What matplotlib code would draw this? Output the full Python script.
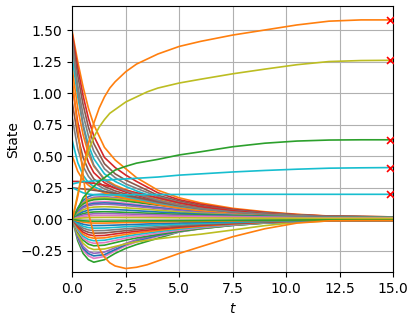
import numpy as np
import matplotlib
matplotlib.use("Agg")
import matplotlib.pyplot as plt

# sample times shared by the bulk trajectories
t = [0, 0.25, 0.5, 0.75, 1, 1.5, 2, 2.5, 3, 4, 5, 6, 7.5, 9, 10.5, 12, 15]
# denser sample times for the highlighted trajectories
t_fine = [0, 0.25, 0.5, 0.75, 1, 1.25, 1.5, 1.75, 2, 2.5, 3, 3.5, 4, 5, 6, 7.5, 9, 10.5, 12, 13.5, 15]

# states that start high and decay
decay_states = [
    [1.48, 1.25, 1.05, 0.88, 0.75, 0.57, 0.47, 0.40, 0.33, 0.23, 0.17, 0.13, 0.087, 0.06, 0.04, 0.026, 0.019],
    [1.46, 1.20, 0.98, 0.80, 0.66, 0.49, 0.41, 0.35, 0.30, 0.21, 0.155, 0.12, 0.08, 0.055, 0.037, 0.025, 0.019],
    [1.43, 1.14, 0.91, 0.73, 0.60, 0.44, 0.36, 0.31, 0.27, 0.19, 0.145, 0.11, 0.075, 0.052, 0.035, 0.024, 0.019],
    [1.36, 1.06, 0.83, 0.66, 0.54, 0.40, 0.33, 0.28, 0.245, 0.18, 0.135, 0.10, 0.07, 0.048, 0.033, 0.023, 0.018],
    [1.27, 0.97, 0.75, 0.59, 0.48, 0.36, 0.30, 0.26, 0.225, 0.165, 0.125, 0.095, 0.065, 0.045, 0.031, 0.022, 0.018],
    [1.18, 0.88, 0.67, 0.52, 0.42, 0.32, 0.27, 0.235, 0.205, 0.155, 0.115, 0.088, 0.06, 0.042, 0.03, 0.021, 0.018],
    [1.05, 0.77, 0.58, 0.45, 0.37, 0.29, 0.245, 0.215, 0.19, 0.145, 0.11, 0.083, 0.057, 0.04, 0.029, 0.021, 0.018],
    [0.92, 0.66, 0.49, 0.39, 0.32, 0.26, 0.225, 0.20, 0.175, 0.135, 0.10, 0.078, 0.054, 0.038, 0.028, 0.02, 0.018],
    [0.80, 0.56, 0.42, 0.34, 0.29, 0.24, 0.21, 0.185, 0.165, 0.128, 0.097, 0.074, 0.051, 0.036, 0.027, 0.02, 0.018],
    [0.62, 0.45, 0.35, 0.29, 0.26, 0.22, 0.195, 0.175, 0.155, 0.12, 0.092, 0.07, 0.049, 0.035, 0.026, 0.02, 0.018],
    [0.50, 0.38, 0.31, 0.27, 0.24, 0.21, 0.185, 0.165, 0.148, 0.115, 0.088, 0.067, 0.047, 0.034, 0.025, 0.02, 0.018],
    [0.30, 0.30, 0.295, 0.29, 0.285, 0.27, 0.25, 0.23, 0.21, 0.17, 0.13, 0.10, 0.068, 0.045, 0.031, 0.022, 0.018],
    [0.25, 0.245, 0.24, 0.235, 0.23, 0.22, 0.205, 0.19, 0.175, 0.14, 0.11, 0.085, 0.058, 0.04, 0.028, 0.02, 0.018],
    [1.40, 1.02, 0.74, 0.55, 0.43, 0.31, 0.26, 0.225, 0.20, 0.15, 0.112, 0.085, 0.058, 0.041, 0.03, 0.021, 0.018],
]

# states that start at zero and spread out
spread_states = [
    [0, 0.09, 0.15, 0.18, 0.195, 0.2, 0.192, 0.18, 0.166, 0.136, 0.106, 0.082, 0.055, 0.037, 0.026, 0.019, 0.016],
    [0, -0.17, -0.27, -0.32, -0.34, -0.32, -0.27, -0.23, -0.2, -0.15, -0.1, -0.075, -0.048, -0.03, -0.018, -0.012, -0.01],
    [0, 0.08, 0.135, 0.162, 0.175, 0.18, 0.173, 0.162, 0.15, 0.124, 0.098, 0.076, 0.052, 0.035, 0.025, 0.019, 0.016],
    [0, -0.15, -0.245, -0.29, -0.31, -0.295, -0.25, -0.21, -0.18, -0.135, -0.1, -0.073, -0.046, -0.028, -0.017, -0.012, -0.01],
    [0, 0.075, 0.128, 0.153, 0.165, 0.17, 0.163, 0.153, 0.142, 0.117, 0.093, 0.072, 0.05, 0.034, 0.025, 0.019, 0.016],
    [0, -0.14, -0.23, -0.272, -0.29, -0.28, -0.24, -0.2, -0.17, -0.128, -0.095, -0.07, -0.044, -0.027, -0.017, -0.012, -0.01],
    [0, 0.072, 0.12, 0.144, 0.155, 0.16, 0.154, 0.144, 0.134, 0.111, 0.088, 0.069, 0.048, 0.033, 0.024, 0.018, 0.015],
    [0, -0.13, -0.215, -0.255, -0.27, -0.26, -0.225, -0.19, -0.162, -0.12, -0.09, -0.066, -0.042, -0.026, -0.016, -0.011, -0.01],
    [0, 0.063, 0.105, 0.126, 0.136, 0.14, 0.135, 0.127, 0.118, 0.098, 0.078, 0.062, 0.044, 0.031, 0.023, 0.018, 0.015],
    [0, -0.12, -0.19, -0.225, -0.24, -0.235, -0.215, -0.195, -0.178, -0.155, -0.135, -0.118, -0.085, -0.05, -0.025, -0.013, -0.01],
    [0, 0.058, 0.098, 0.117, 0.126, 0.13, 0.126, 0.118, 0.11, 0.092, 0.074, 0.059, 0.042, 0.03, 0.022, 0.018, 0.015],
    [0, -0.1, -0.165, -0.197, -0.21, -0.205, -0.185, -0.165, -0.148, -0.12, -0.095, -0.073, -0.048, -0.03, -0.018, -0.012, -0.01],
    [0, 0.054, 0.09, 0.108, 0.116, 0.12, 0.116, 0.109, 0.101, 0.085, 0.069, 0.055, 0.04, 0.029, 0.022, 0.017, 0.015],
    [0, -0.09, -0.15, -0.178, -0.19, -0.185, -0.167, -0.15, -0.135, -0.11, -0.087, -0.067, -0.045, -0.028, -0.017, -0.012, -0.01],
    [0, 0.045, 0.075, 0.09, 0.097, 0.1, 0.097, 0.091, 0.085, 0.072, 0.059, 0.048, 0.036, 0.027, 0.021, 0.017, 0.015],
    [0, -0.08, -0.134, -0.16, -0.17, -0.166, -0.15, -0.135, -0.121, -0.098, -0.078, -0.06, -0.04, -0.026, -0.016, -0.011, -0.01],
    [0, 0.036, 0.06, 0.072, 0.078, 0.08, 0.077, 0.073, 0.068, 0.058, 0.049, 0.041, 0.032, 0.025, 0.02, 0.016, 0.014],
    [0, -0.07, -0.118, -0.141, -0.15, -0.147, -0.133, -0.12, -0.108, -0.088, -0.07, -0.055, -0.037, -0.024, -0.015, -0.011, -0.009],
    [0, 0.027, 0.045, 0.054, 0.058, 0.06, 0.058, 0.055, 0.052, 0.045, 0.039, 0.034, 0.027, 0.022, 0.018, 0.015, 0.014],
    [0, -0.06, -0.102, -0.122, -0.13, -0.128, -0.116, -0.105, -0.095, -0.078, -0.062, -0.049, -0.034, -0.022, -0.014, -0.01, -0.009],
    [0, 0.02, 0.034, 0.04, 0.044, 0.045, 0.044, 0.042, 0.04, 0.035, 0.031, 0.027, 0.023, 0.019, 0.016, 0.014, 0.013],
    [0, -0.05, -0.086, -0.103, -0.11, -0.108, -0.099, -0.09, -0.082, -0.068, -0.055, -0.044, -0.031, -0.02, -0.013, -0.01, -0.009],
    [0, 0.013, 0.022, 0.027, 0.029, 0.03, 0.029, 0.028, 0.027, 0.024, 0.022, 0.02, 0.017, 0.015, 0.013, 0.012, 0.012],
    [0, -0.041, -0.07, -0.084, -0.09, -0.089, -0.082, -0.075, -0.069, -0.058, -0.047, -0.038, -0.027, -0.018, -0.012, -0.009, -0.008],
    [0, 0.007, 0.011, 0.013, 0.014, 0.015, 0.015, 0.014, 0.014, 0.013, 0.012, 0.011, 0.01, 0.009, 0.009, 0.008, 0.008],
    [0, -0.032, -0.055, -0.066, -0.07, -0.069, -0.064, -0.059, -0.054, -0.046, -0.038, -0.031, -0.023, -0.016, -0.011, -0.008, -0.008],
    [0, -0.023, -0.039, -0.047, -0.05, -0.049, -0.046, -0.043, -0.04, -0.034, -0.029, -0.024, -0.018, -0.013, -0.01, -0.008, -0.007],
    [0, -0.014, -0.023, -0.028, -0.03, -0.03, -0.028, -0.026, -0.024, -0.021, -0.018, -0.016, -0.013, -0.01, -0.008, -0.007, -0.006],
    [0, -0.007, -0.012, -0.014, -0.015, -0.015, -0.014, -0.013, -0.013, -0.012, -0.011, -0.01, -0.008, -0.007, -0.006, -0.005, -0.005],
]

# highlighted states (sampled on t_fine)
overshoot = [1.1, 0.72, 0.35, 0.05, -0.12, -0.23, -0.3, -0.345, -0.37, -0.39, -0.38, -0.36, -0.33, -0.27, -0.217, -0.138, -0.075, -0.03, -0.012, -0.01, -0.01]
orange_up = [0, 0.18, 0.4, 0.6, 0.76, 0.88, 0.97, 1.04, 1.09, 1.17, 1.23, 1.27, 1.31, 1.37, 1.41, 1.46, 1.5, 1.54, 1.57, 1.58, 1.58]
olive_up = [0, 0.2, 0.4, 0.54, 0.65, 0.73, 0.79, 0.84, 0.87, 0.93, 0.97, 1.01, 1.04, 1.08, 1.11, 1.153, 1.19, 1.225, 1.25, 1.258, 1.26]
green_up = [0, 0.08, 0.17, 0.22, 0.26, 0.3, 0.33, 0.36, 0.39, 0.42, 0.445, 0.46, 0.475, 0.51, 0.535, 0.575, 0.603, 0.62, 0.628, 0.63, 0.63]
cyan_a = [0.28, 0.29, 0.3, 0.3, 0.305, 0.307, 0.31, 0.312, 0.315, 0.32, 0.325, 0.33, 0.335, 0.35, 0.36, 0.375, 0.387, 0.397, 0.405, 0.408, 0.41]
cyan_b = [0.25, 0.23, 0.21, 0.2, 0.195, 0.194, 0.193, 0.193, 0.193, 0.194, 0.195, 0.195, 0.196, 0.197, 0.197, 0.198, 0.198, 0.198, 0.198, 0.198, 0.198]

# final targets
target_t = 14.85
targets = [1.58, 1.26, 0.63, 0.41, 0.198]

fig = plt.figure(figsize=(4.16, 3.17), dpi=100)
ax = fig.add_subplot(111)
fig.subplots_adjust(left=0.174, right=0.945, bottom=0.141, top=0.981)

lw = 1.2
for i in range(max(len(decay_states), len(spread_states))):
    if i < len(spread_states):
        ax.plot(t, spread_states[i], lw=lw)
    if i < len(decay_states):
        ax.plot(t, decay_states[i], lw=lw)

ax.plot(t_fine, overshoot, lw=lw, color="C1")
ax.plot(t_fine, cyan_b, lw=lw, color="C9")
ax.plot(t_fine, cyan_a, lw=lw, color="C9")
ax.plot(t_fine, green_up, lw=lw, color="C2")
ax.plot(t_fine, olive_up, lw=lw, color="C8")
ax.plot(t_fine, orange_up, lw=lw, color="C1")

ax.scatter([target_t] * len(targets), targets, marker="x", color="red", s=25, lw=1.2, zorder=5)

ax.set_xlim(0, 15)
ax.set_ylim(-0.42, 1.69)
ax.set_xticks([0, 2.5, 5, 7.5, 10, 12.5, 15])
ax.set_yticks([-0.25, 0, 0.25, 0.5, 0.75, 1.0, 1.25, 1.5])
ax.grid(True)
ax.set_xlabel("$t$")
ax.set_ylabel("State")
ax.yaxis.set_label_coords(-0.163, 0.5)

fig.savefig("out.png", dpi=100)
